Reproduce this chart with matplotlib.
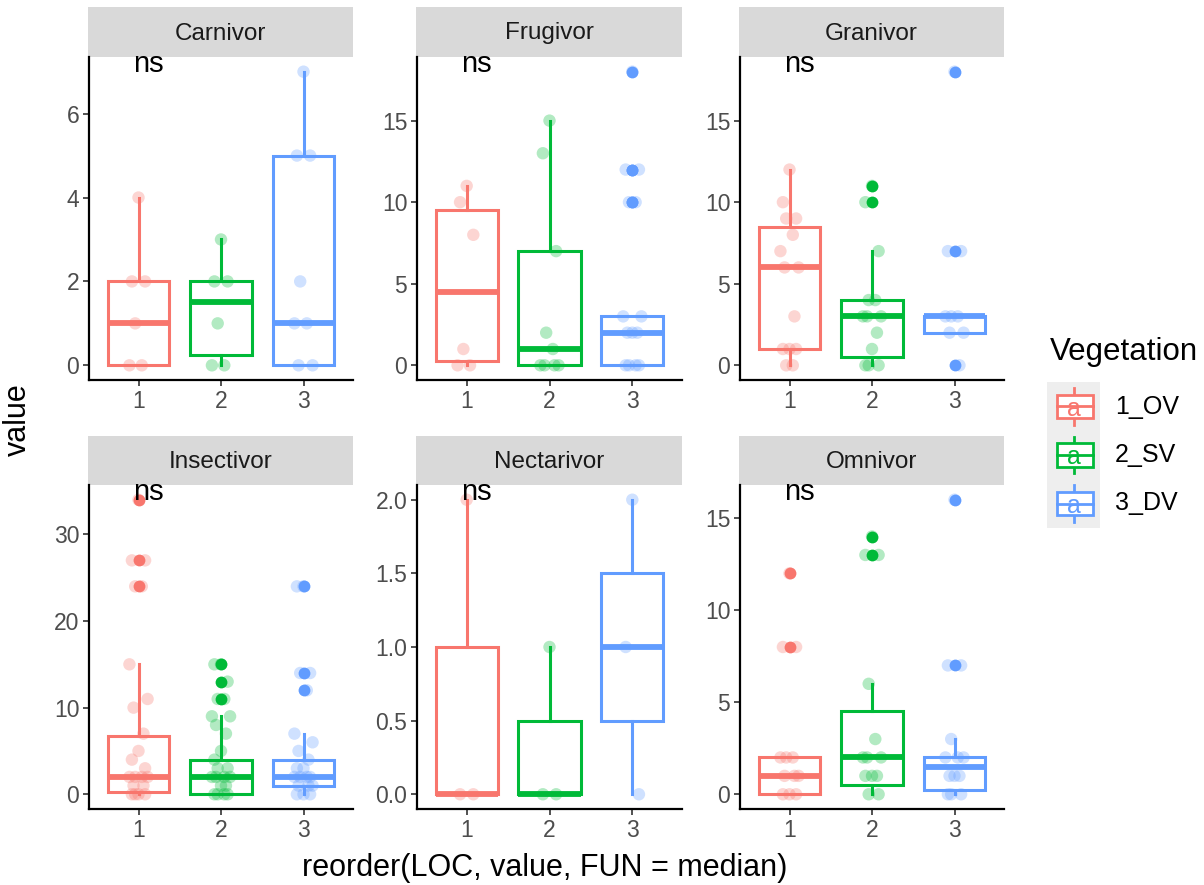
import numpy as np
import matplotlib
matplotlib.use("Agg")
import matplotlib.pyplot as plt
from matplotlib.patches import Rectangle

plt.rcParams['font.family'] = ['Liberation Sans', 'DejaVu Sans']

# ---- data ----
groups = ["1", "2", "3"]
veg_labels = ["1_OV", "2_SV", "3_DV"]
colors = ["#F8766D", "#00BA38", "#619CFF"]
panels = ["Carnivor", "Frugivor", "Granivor", "Insectivor", "Nectarivor", "Omnivor"]

# raw (jittered) observations per group
carn_pts = [[4, 2, 2, 1, 0, 0], [3, 2, 2, 1, 0, 0], [7, 5, 5, 2, 1, 1, 0, 0]]
frug_pts = [[11, 10, 8, 1, 0, 0], [15, 13, 7, 2, 1, 0, 0, 0, 0],
            [18, 12, 12, 10, 10, 3, 3, 2, 2, 2, 0, 0, 0, 0]]
gran_pts = [[12, 10, 9, 9, 8, 7, 6, 6, 3, 1, 1, 1, 0, 0],
            [11, 10, 7, 4, 4, 3, 3, 3, 2, 1, 0, 0, 0],
            [18, 7, 7, 3, 3, 3, 2, 2, 0]]
inse_pts = [[34, 27, 27, 24, 24, 15, 11, 10, 7, 5, 4, 3, 2, 2, 2, 2, 1, 1, 0, 0, 0, 0],
            [15, 15, 13, 11, 11, 9, 9, 8, 7, 5, 4, 3, 3, 2, 2, 2, 2, 1, 1, 0, 0, 0, 0],
            [24, 24, 14, 14, 12, 7, 6, 5, 4, 3, 3, 2, 2, 2, 2, 1, 1, 1, 0, 0, 0]]
nect_pts = [[2, 0, 0], [1, 0, 0], [2, 1, 0]]
omni_pts = [[12, 8, 8, 2, 2, 2, 1, 1, 1, 0, 0, 0],
            [14, 13, 13, 6, 3, 2, 2, 2, 1, 1, 1, 0, 0],
            [16, 7, 7, 3, 2, 2, 2, 1, 1, 1, 0, 0, 0]]

# box statistics per group: q1, median, q3, whisker low, whisker high
carn_box = [[0, 1, 2, 0, 4], [0.25, 1.5, 2, 0, 3], [0, 1, 5, 0, 7]]
frug_box = [[0.25, 4.5, 9.5, 0, 11], [0, 1, 7, 0, 15], [0, 2, 3, 0, 3]]
gran_box = [[1, 6, 8.5, 0, 12], [0.5, 3, 4, 0, 7], [2, 3, 3, 2, 3]]
inse_box = [[0.25, 2, 6.75, 0, 15], [0, 2, 4, 0, 9], [1, 2, 4, 0, 7]]
nect_box = [[0, 0, 1, 0, 2], [0, 0, 0.5, 0, 1], [0.5, 1, 1.5, 0, 2]]
omni_box = [[0, 1, 2, 0, 2], [0.5, 2, 4.5, 0, 6], [0.25, 1.5, 2, 0, 3]]

# outliers per group
carn_out = [[], [], []]
frug_out = [[], [], [18, 12, 12, 10, 10]]
gran_out = [[], [11, 10], [18, 7, 0]]
inse_out = [[34, 27, 24], [15, 13, 11], [24, 14, 12]]
nect_out = [[], [], []]
omni_out = [[12, 8], [14, 13], [16, 7]]

yticks = [[0, 2, 4, 6], [0, 5, 10, 15], [0, 5, 10, 15],
          [0, 10, 20, 30], [0, 0.5, 1.0, 1.5, 2.0], [0, 5, 10, 15]]
ytick_labels = [None, None, None, None, ["0.0", "0.5", "1.0", "1.5", "2.0"], None]

all_pts = [carn_pts, frug_pts, gran_pts, inse_pts, nect_pts, omni_pts]
all_box = [carn_box, frug_box, gran_box, inse_box, nect_box, omni_box]
all_out = [carn_out, frug_out, gran_out, inse_out, nect_out, omni_out]

# ---- layout (pixels) ----
W, H = 1204, 885
fig = plt.figure(figsize=(W / 100, H / 100), dpi=100)


def px_axes(x0, y0, x1, y1):
    return fig.add_axes([x0 / W, 1 - y1 / H, (x1 - x0) / W, (y1 - y0) / H])


col_x = [(89, 353), (417, 682), (740, 1004)]
row_y = [(7, 57, 380), (436, 485, 809)]
jit = [0.0, -0.08, 0.08, -0.04, 0.04, -0.11, 0.11, -0.06, 0.06]

for k, name in enumerate(panels):
    r, c = divmod(k, 3)
    x0, x1 = col_x[c]
    st, y0, y1 = row_y[r]

    # strip
    sax = px_axes(x0 - 1, st, x1, y0)
    sax.set_facecolor("#D9D9D9")
    sax.set_xticks([])
    sax.set_yticks([])
    for s in sax.spines.values():
        s.set_visible(False)
    sax.text(0.5, 0.47, name, ha="center", va="center", fontsize=17.5,
             color="#1A1A1A", transform=sax.transAxes)

    ax = px_axes(x0, y0, x1, y1)
    pts, box, out = all_pts[k], all_box[k], all_out[k]
    for g in range(3):
        q1, med, q3, lo, hi = box[g]
        st_g = dict(q1=q1, med=med, q3=q3, whislo=lo, whishi=hi, fliers=out[g])
        ax.bxp([st_g], positions=[g + 1], widths=0.75, patch_artist=True,
               showcaps=False,
               boxprops=dict(facecolor="white", edgecolor=colors[g], linewidth=2.2),
               medianprops=dict(color=colors[g], linewidth=4.2, solid_capstyle="butt"),
               whiskerprops=dict(color=colors[g], linewidth=2.2),
               flierprops=dict(marker="o", markerfacecolor=colors[g],
                               markeredgecolor="none", markersize=8.5))
        vals = np.array(pts[g], dtype=float)
        xs = g + 1 + np.array([jit[i % len(jit)] for i in range(len(vals))])
        ax.scatter(xs, vals, s=80, color=colors[g], alpha=0.3,
                   edgecolors="none", zorder=4)

    ymax = max(max(p) for p in pts)
    pad = ymax * 0.05
    ax.set_ylim(-pad, ymax + pad)
    ax.set_xlim(0.4, 3.6)
    ax.set_xticks([1, 2, 3])
    ax.set_xticklabels(groups)
    ax.set_yticks(yticks[k])
    if ytick_labels[k] is not None:
        ax.set_yticklabels(ytick_labels[k])
    ax.tick_params(labelsize=16.5, labelcolor="#4D4D4D", color="#333333",
                   length=4, width=1.2, pad=3)
    for s in ["top", "right"]:
        ax.spines[s].set_visible(False)
    for s in ["left", "bottom"]:
        ax.spines[s].set_linewidth(1.6)
        ax.spines[s].set_color("black")
    ax.text(0.93, ymax, "ns", ha="left", va="baseline", fontsize=21, color="black",
            zorder=6)

# axis titles
fig.text(545 / W, 1 - 868 / H, "reorder(LOC, value, FUN = median)", ha="center",
         va="center", fontsize=22)
fig.text(18 / W, 1 - 420 / H, "value", ha="center", va="center", rotation=90,
         fontsize=22)

# legend
fig.text(1050 / W, 1 - 352 / H, "Vegetation", ha="left", va="center", fontsize=22.5)
lax = px_axes(1047, 382, 1100, 528)
lax.set_xlim(0, 1)
lax.set_ylim(0, 3)
lax.set_facecolor("#EEEEEE")
lax.set_xticks([])
lax.set_yticks([])
for s in lax.spines.values():
    s.set_visible(False)
for g in range(3):
    cy = 2.5 - g
    lax.plot([0.5, 0.5], [cy - 0.38, cy + 0.38], color=colors[g], lw=2, zorder=1)
    lax.add_patch(Rectangle((0.19, cy - 0.24), 0.68, 0.48, facecolor="white",
                            edgecolor=colors[g], lw=2, zorder=2))
    lax.plot([0.19, 0.87], [cy, cy], color=colors[g], lw=2, zorder=3)
    lax.text(0.5, cy - 0.05, "a", ha="center", va="center", fontsize=18,
             color=colors[g], zorder=4)
    fig.text(1115 / W, 1 - (407 + 48 * g) / H, veg_labels[g], ha="left",
             va="center", fontsize=18)

fig.savefig("out.png", dpi=100)
